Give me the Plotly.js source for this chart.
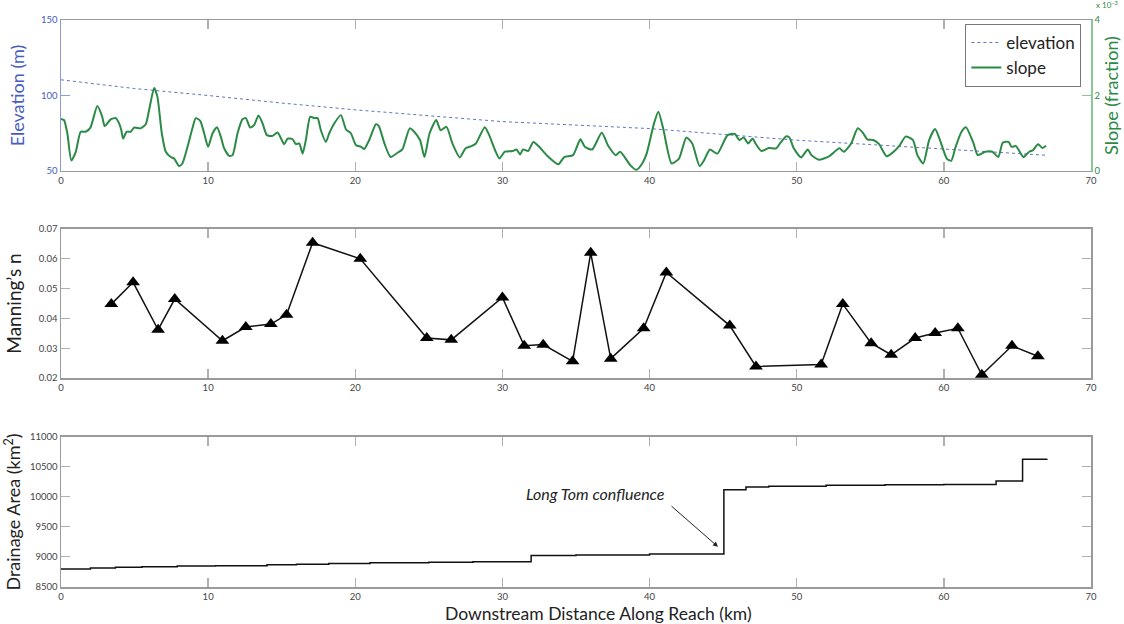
<!DOCTYPE html>
<html>
<head>
<meta charset="utf-8">
<script src="https://cdn.plot.ly/plotly-3.0.1.min.js"></script>
<style>html,body{margin:0;padding:0;background:#fff;}#chart{width:1124px;height:624px;}</style>
</head>
<body>
<div id="chart"></div>
<script>
// ---------- DATA ----------
const elevKm  = [0, 2, 5, 10, 15, 20, 25, 30, 35, 40, 45, 50, 55, 60, 65, 67];
const elevM   = [110.4, 108.2, 104.6, 100.0, 95.0, 90.5, 86.5, 82.7, 80.4, 78.1, 74.2, 70.4, 67.5, 64.4, 61.5, 60.4];

const slopeKm = [0,0.2,0.43,0.7,1.0,1.34,1.68,2.0,2.47,2.8,2.97,3.38,3.72,3.95,4.1,4.22,4.47,4.74,4.97,5.42,5.76,5.99,6.33,6.55,6.85,7.12,7.46,7.69,8.03,8.25,8.6,8.93,9.16,9.46,9.73,10.0,10.3,10.6,10.86,11.09,11.43,11.66,12.0,12.33,12.56,12.86,13.13,13.42,13.7,13.99,14.38,14.72,15.17,15.4,15.74,15.96,16.19,16.42,16.64,16.94,17.21,17.44,17.66,18.0,18.23,18.57,19.02,19.37,19.7,20.05,20.4,20.6,20.95,21.4,21.6,21.98,22.4,22.9,23.2,23.7,24.0,24.4,24.7,25.05,25.5,25.8,26.2,26.6,27.1,27.5,27.9,28.2,28.8,29.1,29.5,29.8,30.16,30.7,30.95,31.2,31.4,31.75,32.1,32.5,33.0,33.8,34.2,34.8,35.3,35.6,36.1,36.75,37.2,37.7,38.0,38.7,39.1,39.5,39.8,40.3,40.6,40.95,41.5,42.0,42.5,42.9,43.4,43.7,44.1,44.6,45.3,45.8,46.1,46.4,46.7,47.0,47.2,47.6,48.1,48.6,48.9,49.3,49.5,49.8,50.3,50.75,51.0,51.5,52.2,52.9,53.2,53.7,54.15,54.5,54.8,55.2,55.6,56.1,56.5,57.0,57.4,57.9,58.2,58.6,59.0,59.4,59.7,60.2,60.5,60.8,61.2,61.5,62.0,62.3,62.8,63.3,63.7,64.0,64.4,64.6,64.9,65.4,65.8,66.05,66.4,66.7,66.95];
// slope in units of 1e-3
const slopeVal = [1.38,1.35,1.0,0.28,0.5,1.04,1.04,1.15,1.72,1.44,1.19,1.37,1.40,1.26,1.08,0.86,1.04,1.04,1.15,1.13,1.24,1.62,2.2,1.97,1.0,0.51,0.37,0.33,0.13,0.2,0.64,1.13,1.40,1.33,1.0,0.64,1.0,1.16,0.91,0.6,0.4,0.42,1.0,1.37,1.40,1.15,1.22,1.47,1.26,0.95,0.93,1.02,0.71,0.86,0.84,0.71,0.73,0.46,0.82,1.44,1.40,1.40,1.08,0.77,1.0,1.26,1.48,1.10,1.0,0.68,0.64,0.58,0.82,1.24,1.19,0.73,0.37,0.49,0.57,1.13,1.04,0.82,0.37,1.0,1.35,1.08,1.17,0.73,0.36,0.6,0.66,0.73,1.16,0.95,0.55,0.33,0.51,0.53,0.57,0.44,0.57,0.53,0.77,0.64,0.42,0.18,0.37,0.42,0.84,0.64,0.57,1.01,0.66,0.42,0.51,0.15,0.03,0.2,0.46,1.26,1.57,1.08,0.2,0.33,0.89,0.73,0.13,0.28,0.57,0.46,0.95,0.98,0.82,0.89,0.73,0.86,0.73,0.53,0.61,0.6,0.75,0.92,0.89,0.6,0.36,0.57,0.42,0.3,0.39,0.6,0.51,0.73,1.13,1.01,0.84,0.82,0.71,0.39,0.48,0.68,0.91,0.82,0.42,0.2,0.82,1.11,0.86,0.33,0.27,0.64,1.04,1.16,0.75,0.42,0.51,0.51,0.37,0.75,0.77,0.64,0.66,0.37,0.51,0.55,0.71,0.61,0.67];

const nKm  = [3.42,4.9,6.6,7.73,10.97,12.56,14.26,15.33,17.1,20.34,24.86,26.52,30.0,31.48,32.77,34.77,36.0,37.36,39.6,41.14,45.45,47.23,51.66,53.13,55.06,56.42,58.05,59.41,60.95,62.58,64.63,66.39];
const nVal = [0.0448,0.0521,0.0362,0.0465,0.0325,0.0371,0.0381,0.0412,0.0654,0.0600,0.0334,0.0328,0.0470,0.0308,0.0312,0.0256,0.0620,0.0265,0.0367,0.0554,0.0376,0.0239,0.0245,0.0448,0.0317,0.0278,0.0334,0.0351,0.0367,0.0211,0.0308,0.0273];

const areaKm  = [0, 2.0, 3.7, 5.5, 7.9, 10.5, 14.0, 16.0, 18.2, 21.0, 25.0, 28.0, 31.95, 35.0, 40.0, 45.05, 46.55, 48.1, 52.0, 56.0, 60.0, 63.55, 65.35, 67.0];
const areaKm2 = [8800, 8815, 8830, 8838, 8850, 8855, 8870, 8877, 8893, 8905, 8912, 8920, 9025, 9035, 9050, 10120, 10165, 10180, 10195, 10203, 10210, 10265, 10630, 10635];

const xTicks = [0, 10, 20, 30, 40, 50, 60, 70];

// ---------- STYLE ----------
const BLUE = '#4a5cc0', GREEN = '#2b8a46', AX = '#9a9a9a';
const FONT = 'Lato, Open Sans, sans-serif';

function xAx(anchor) {
  return {
    anchor: anchor, range: [0, 70], tickvals: xTicks, ticks: 'inside', ticklen: 9,
    tickcolor: '#b0b0b0', tickwidth: 1.5, linecolor: AX, linewidth: 1.5, mirror: 'ticks',
    showgrid: false, zeroline: false, tickfont: {size: 9.5, color: '#444', family: FONT},
    automargin: false, showline: true
  };
}

const traces = [
  {x: elevKm, y: elevM, name: 'elevation', mode: 'lines', xaxis: 'x', yaxis: 'y',
   line: {color: '#6272c8', width: 1, dash: 'dot'}},
  {x: slopeKm, y: slopeVal, name: 'slope', mode: 'lines', xaxis: 'x', yaxis: 'y2',
   line: {color: GREEN, width: 2, shape: 'spline', smoothing: 0.6}},
  {x: nKm, y: nVal, mode: 'lines+markers', xaxis: 'x2', yaxis: 'y3', showlegend: false,
   line: {color: '#111', width: 1.5},
   marker: {symbol: 'triangle-up', size: 12, color: '#000'}},
  {x: areaKm, y: areaKm2, mode: 'lines', xaxis: 'x3', yaxis: 'y4', showlegend: false,
   line: {color: '#111', width: 1.5, shape: 'hv'}}
];

const layout = {
  width: 1124, height: 624,
  margin: {l: 61, r: 33, t: 20, b: 37},
  paper_bgcolor: '#fff', plot_bgcolor: '#fff',
  font: {family: FONT},
  showlegend: true,
  legend: {x: 0.878, y: 0.993, xanchor: 'left', yanchor: 'top', bgcolor: '#fff',
           bordercolor: '#777', borderwidth: 1, font: {size: 17, color: '#222', family: FONT},
           tracegroupgap: 0},
  xaxis: xAx('y'),
  yaxis: {domain: [0.7337, 1], range: [50, 150], tickvals: [50, 100, 150], ticks: 'inside', ticklen: 9,
          tickcolor: '#8f9bd6', linecolor: '#8f9bd6', linewidth: 1.5, showgrid: false, zeroline: false,
          tickfont: {size: 9.5, color: BLUE, family: FONT}, automargin: false,
          title: {text: 'Elevation (m)', font: {size: 18, color: BLUE, family: FONT}, standoff: 12}},
  yaxis2: {overlaying: 'y', side: 'right', anchor: 'x', range: [0, 4], tickvals: [0, 2, 4], ticktext: ['0', '2', '4'],
           ticks: 'inside', ticklen: 9, tickcolor: '#8cc79a', linecolor: '#8cc79a', linewidth: 1.5,
           showgrid: false, zeroline: false, tickfont: {size: 9.5, color: GREEN, family: FONT}, automargin: false,
           title: {text: 'Slope (fraction)', font: {size: 18, color: GREEN, family: FONT}, standoff: 6}},
  xaxis2: xAx('y3'),
  yaxis3: {domain: [0.3686, 0.6314], anchor: 'x2', range: [0.02, 0.07], dtick: 0.01, tickformat: '.2f',
           ticks: 'inside', ticklen: 9, tickcolor: '#b0b0b0', linecolor: AX, linewidth: 1.5, mirror: 'ticks',
           showgrid: false, zeroline: false, tickfont: {size: 9.5, color: '#444', family: FONT}, automargin: false,
           title: {text: 'Manning\u2019s n', font: {size: 19, color: '#222', family: FONT}, standoff: 12}},
  xaxis3: xAx('y4'),
  yaxis4: {domain: [0, 0.2646], anchor: 'x3', range: [8500, 11000], dtick: 500, tickformat: 'd',
           ticks: 'inside', ticklen: 9, tickcolor: '#b0b0b0', linecolor: AX, linewidth: 1.5, mirror: 'ticks',
           showgrid: false, zeroline: false, tickfont: {size: 9.5, color: '#444', family: FONT}, automargin: false,
           title: {text: 'Drainage Area (km<sup>2</sup>)', font: {size: 18, color: '#222', family: FONT}, standoff: 4}},
  annotations: [
    {xref: 'paper', yref: 'paper', x: 1.003, y: 1.014, xanchor: 'left', yanchor: 'bottom', showarrow: false,
     text: 'x 10<sup>\u22123</sup>', font: {size: 8, color: GREEN, family: FONT}},
    {xref: 'paper', yref: 'paper', x: 0.522, y: -0.047, xanchor: 'center', yanchor: 'middle', showarrow: false,
     text: 'Downstream Distance Along Reach (km)', font: {size: 17.5, color: '#222', family: FONT}},
    {xref: 'x3', yref: 'y4', x: 36.3, y: 10050, showarrow: false,
     text: '<i>Long Tom confluence</i>', font: {size: 16, color: '#222', family: FONT}},
    {xref: 'x3', yref: 'y4', x: 44.65, y: 9170, ax: -48, ay: -42, text: '', showarrow: true,
     arrowhead: 2, arrowsize: 1, arrowwidth: 1, arrowcolor: '#222'}
  ]
};

Plotly.newPlot('chart', traces, layout, {displayModeBar: false, staticPlot: true});
</script>
</body>
</html>
